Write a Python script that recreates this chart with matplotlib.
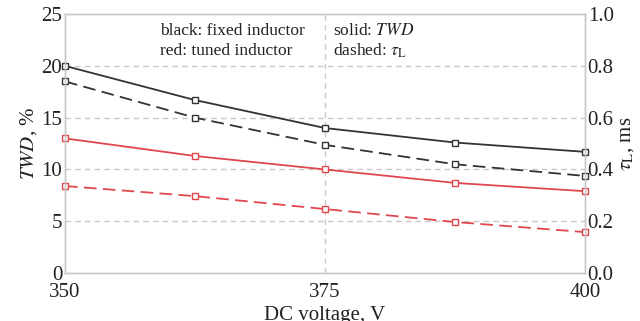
import matplotlib
matplotlib.use("Agg")
import matplotlib.pyplot as plt

plt.rcParams['font.family'] = ['Liberation Serif', 'DejaVu Serif']
plt.rcParams['mathtext.fontset'] = 'stix'

voltage = [350, 362.5, 375, 387.5, 400]
twd_fixed = [20.0, 16.7, 14.0, 12.6, 11.7]
twd_tuned = [13.0, 11.3, 10.0, 8.7, 7.9]
tau_fixed = [0.74, 0.60, 0.495, 0.42, 0.375]
tau_tuned = [0.336, 0.297, 0.247, 0.197, 0.158]

x_ticks = [350, 375, 400]
y_ticks = [0, 5, 10, 15, 20, 25]
y2_ticks = [0.0, 0.2, 0.4, 0.6, 0.8, 1.0]

RED = '#e0474c'
BLACK = '#333333'
GRID = '#c8c8c8'
TXT = '#222222'

fig = plt.figure(figsize=(6.4, 3.21), dpi=100)
ax = fig.add_axes([0.1016, 0.1495, 0.8124, 0.8065])
ax2 = ax.twinx()

mk = dict(marker='s', markersize=4.5, markerfacecolor='white',
          markeredgewidth=1.0, clip_on=False)
dash = (0, (7, 3.5))
ax.plot(voltage, twd_fixed, color=BLACK, lw=1.3, **mk, zorder=3)
ax.plot(voltage, twd_tuned, color=RED, lw=1.3, **mk, zorder=3)
ax2.plot(voltage, tau_fixed, color=BLACK, lw=1.3, ls=dash, **mk)
ax2.plot(voltage, tau_tuned, color=RED, lw=1.3, ls=dash, **mk)

ax.set_xlim(350, 400)
ax.set_ylim(0, 25)
ax2.set_ylim(0, 1.0)
ax.set_xticks(x_ticks)
ax.set_yticks(y_ticks)
ax2.set_yticks(y2_ticks)
ax2.set_yticklabels([f'{v:.1f}' for v in y2_ticks])

for a in (ax, ax2):
    for s in a.spines.values():
        s.set_color(GRID)
        s.set_linewidth(1.0)
    a.tick_params(length=0, labelsize=15, pad=2, labelcolor=TXT)
ax.tick_params(axis='x', pad=7)

for v in [5, 10, 15, 20]:
    ax.axhline(v, color=GRID, lw=1.0, ls=(0, (4, 3)), zorder=1)
ax.axvline(375, color=GRID, lw=1.0, ls=(0, (4, 3)), zorder=1)

ax.set_xlabel('DC voltage, V', fontsize=15, labelpad=3, color=TXT)
ax.set_ylabel(r'$\it{TWD}$, %', fontsize=15, labelpad=2, color=TXT)
ax2.set_ylabel(r'$\tau_{\rm L}$, ms', fontsize=15, labelpad=2, color=TXT)

ax.text(0.183, 0.935, 'black: fixed inductor', transform=ax.transAxes,
        fontsize=12.5, va='center', ha='left', color=TXT)
ax.text(0.183, 0.858, 'red: tuned inductor', transform=ax.transAxes,
        fontsize=12.5, va='center', ha='left', color=TXT)
ax.text(0.515, 0.935, r'solid: $\it{TWD}$', transform=ax.transAxes,
        fontsize=12.5, va='center', ha='left', color=TXT)
ax.text(0.515, 0.858, r'dashed: $\tau_{\rm L}$', transform=ax.transAxes,
        fontsize=12.5, va='center', ha='left', color=TXT)

fig.savefig('out.png', dpi=100)
